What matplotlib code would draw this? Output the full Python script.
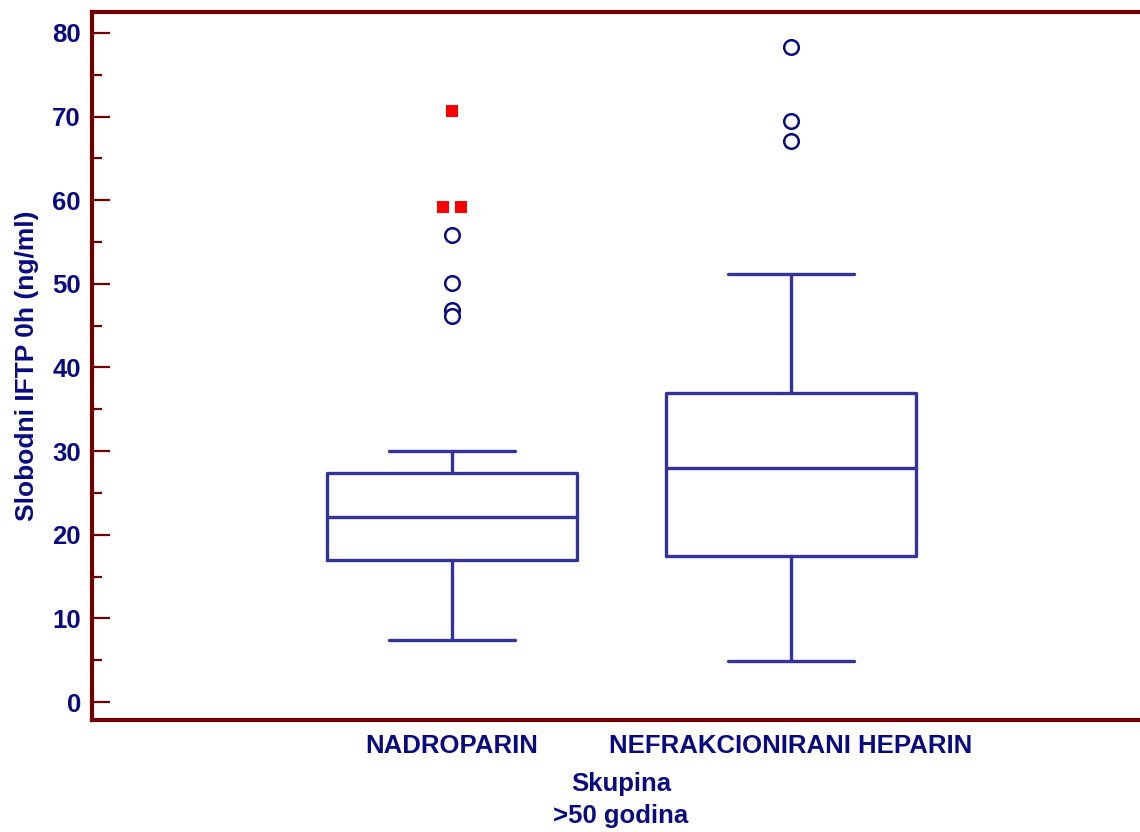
import matplotlib
matplotlib.use("Agg")
import matplotlib.pyplot as plt
import numpy as np
from matplotlib.ticker import MultipleLocator
from collections import Counter

# box plot summary
groups = ["NADROPARIN", "NEFRAKCIONIRANI HEPARIN"]
q1 = [17.0, 17.5]
median = [22.1, 28.0]
q3 = [27.4, 36.9]
whisker_low = [7.4, 4.9]
whisker_high = [30.0, 51.2]
near_outliers = [[55.8, 50.1, 46.9, 46.2], [78.3, 69.5, 67.1]]
far_outliers = [[70.7, 59.2, 59.2], []]

y_label = "Slobodni IFTP 0h (ng/ml)"
x_label = "Skupina\n>50 godina"

TEXT = "#0a0a80"
BOX = "#333399"
SPINE = "#6e0000"

plt.rcParams["font.family"] = ["Liberation Sans", "DejaVu Sans"]
plt.rcParams["font.weight"] = "bold"

W, H = 1140, 832
fig = plt.figure(figsize=(W / 100, H / 100), dpi=100)
ax = fig.add_axes([92 / W, 1 - 720 / H, 1058 / W, 708 / H])

positions = np.arange(1, len(groups) + 1)
stats = []
for i, g in enumerate(groups):
    stats.append({
        "label": g,
        "med": median[i],
        "q1": q1[i],
        "q3": q3[i],
        "whislo": whisker_low[i],
        "whishi": whisker_high[i],
        "fliers": [],
    })

line = dict(color=BOX, linewidth=2.4, solid_capstyle="round", solid_joinstyle="round")
ax.bxp(stats, positions=positions, widths=0.74, capwidths=0.37,
       showfliers=False, boxprops=line, whiskerprops=line, capprops=line,
       medianprops=line, manage_ticks=False)

for pos, vals in zip(positions, near_outliers):
    ax.plot(np.full(len(vals), pos), vals, linestyle="none", marker="o",
            markersize=10.5, markerfacecolor="white", markeredgecolor=TEXT,
            markeredgewidth=1.8, zorder=3)

# far outliers: spread equal values side by side
for pos, vals in zip(positions, far_outliers):
    counts = Counter(vals)
    seen = Counter()
    xs = []
    for v in vals:
        n = counts[v]
        k = seen[v]
        seen[v] += 1
        xs.append(pos + (k - (n - 1) / 2) * 0.053)
    ax.plot(xs, vals, linestyle="none", marker="s", markersize=8.5,
            color="#ff0000", markeredgewidth=0, zorder=3)

ax.set_xlim(-0.062, 3.059)
ax.set_ylim(-2.15, 82.5)
ax.set_xticks(positions)
ax.set_xticklabels(groups)
ax.yaxis.set_major_locator(MultipleLocator(10))
ax.yaxis.set_minor_locator(MultipleLocator(5))

for side in ["left", "top", "bottom"]:
    ax.spines[side].set_color(SPINE)
    ax.spines[side].set_linewidth(3)
ax.spines["right"].set_visible(False)

ax.tick_params(axis="y", which="major", direction="in", length=13, width=1.6,
               color=SPINE, labelcolor=TEXT, labelsize=18.5, pad=8)
ax.tick_params(axis="y", which="minor", direction="in", length=7, width=1.6,
               color=SPINE)
ax.tick_params(axis="x", which="both", length=0, labelcolor=TEXT,
               labelsize=18.5, pad=10)

ax.set_ylabel(y_label, color=TEXT, fontsize=19, fontweight="bold")
ax.yaxis.set_label_coords(-0.05, 0.5)
ax.set_xlabel(x_label, color=TEXT, fontsize=18.5, fontweight="bold",
              labelpad=10, linespacing=1.45)

fig.savefig("out.png", dpi=100)
